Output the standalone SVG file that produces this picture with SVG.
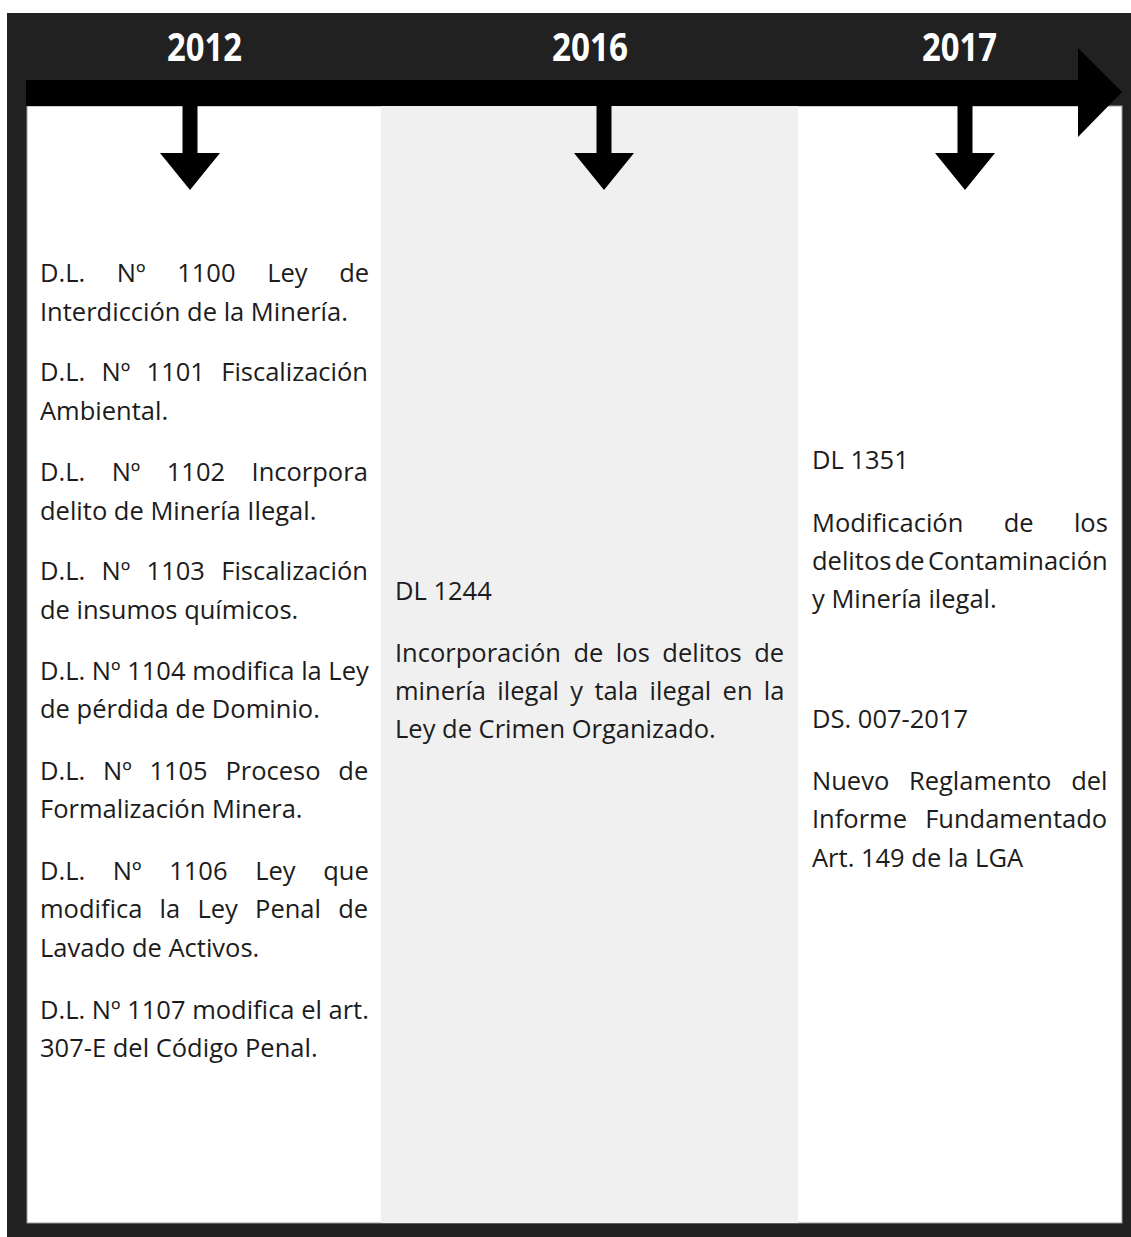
<svg xmlns="http://www.w3.org/2000/svg" width="1131" height="1237" viewBox="0 0 1131 1237">
<style>
.year{font-family:"Open Sans","DejaVu Sans",sans-serif;font-weight:bold;font-size:40px;fill:#ffffff}
.t{font-family:"Open Sans","DejaVu Sans",sans-serif;font-size:25.5px;fill:#1c1c1c}
.arr{fill:#000000}
</style>
<defs>
<path id="down" d="M-7.5,0 H7.5 V47 H30 L0,84 L-30,47 H-7.5 Z"/>
</defs>
<rect x="0" y="0" width="1131" height="1237" fill="#ffffff"/>
<rect x="7" y="13" width="1124" height="1224" fill="#222121"/>
<rect x="27" y="106" width="1095" height="1117" fill="#ffffff" stroke="#9a9a9a" stroke-width="1"/>
<rect x="381" y="106" width="417" height="1117" fill="#f0f0f0"/>

<g id="connectors">
<rect class="arr" x="26" y="80" width="1053" height="26"/>
<polygon class="arr" points="1078,48 1122,92 1078,137"/>
<use href="#down" x="190" y="106" class="arr"/>
<use href="#down" x="604" y="106" class="arr"/>
<use href="#down" x="965" y="106" class="arr"/>
</g>

<g id="node-2012">
<text class="year" x="167" y="61" textLength="75" lengthAdjust="spacingAndGlyphs">2012</text>
<text class="t" x="40" y="282" style="word-spacing:25px">D.L. Nº 1100 Ley de</text>
<text class="t" x="40" y="321">Interdicción de la Minería.</text>
<text class="t" x="40" y="381" style="word-spacing:9.7px">D.L. Nº 1101 Fiscalización</text>
<text class="t" x="40" y="420">Ambiental.</text>
<text class="t" x="40" y="481" style="word-spacing:19.8px">D.L. Nº 1102 Incorpora</text>
<text class="t" x="40" y="520">delito de Minería Ilegal.</text>
<text class="t" x="40" y="580" style="word-spacing:9.7px">D.L. Nº 1103 Fiscalización</text>
<text class="t" x="40" y="619">de insumos químicos.</text>
<text class="t" x="40" y="680">D.L. Nº 1104 modifica la Ley</text>
<text class="t" x="40" y="718">de pérdida de Dominio.</text>
<text class="t" x="40" y="780" style="word-spacing:11.1px">D.L. Nº 1105 Proceso de</text>
<text class="t" x="40" y="818">Formalización Minera.</text>
<text class="t" x="40" y="880" style="word-spacing:21px">D.L. Nº 1106 Ley que</text>
<text class="t" x="40" y="918" style="word-spacing:10.6px">modifica la Ley Penal de</text>
<text class="t" x="40" y="957">Lavado de Activos.</text>
<text class="t" x="40" y="1019">D.L. Nº 1107 modifica el art.</text>
<text class="t" x="40" y="1057">307-E del Código Penal.</text>
</g>

<g id="node-2016">
<text class="year" x="552" y="61" textLength="76" lengthAdjust="spacingAndGlyphs">2016</text>
<text class="t" x="395" y="600">DL 1244</text>
<text class="t" x="395" y="662" style="word-spacing:5.9px">Incorporación de los delitos de</text>
<text class="t" x="395" y="700" style="word-spacing:4.7px">minería ilegal y tala ilegal en la</text>
<text class="t" x="395" y="738">Ley de Crimen Organizado.</text>
</g>

<g id="node-2017">
<text class="year" x="922" y="61" textLength="75" lengthAdjust="spacingAndGlyphs">2017</text>
<text class="t" x="812" y="469">DL 1351</text>
<text class="t" x="812" y="532" style="word-spacing:33.7px">Modificación de los</text>
<text class="t" x="812" y="570" style="word-spacing:-3.3px">delitos de Contaminación</text>
<text class="t" x="812" y="608">y Minería ilegal.</text>
<text class="t" x="812" y="728">DS. 007-2017</text>
<text class="t" x="812" y="790" style="word-spacing:13.1px">Nuevo Reglamento del</text>
<text class="t" x="812" y="828" style="word-spacing:11.5px">Informe Fundamentado</text>
<text class="t" x="812" y="867">Art. 149 de la LGA</text>
</g>
</svg>
